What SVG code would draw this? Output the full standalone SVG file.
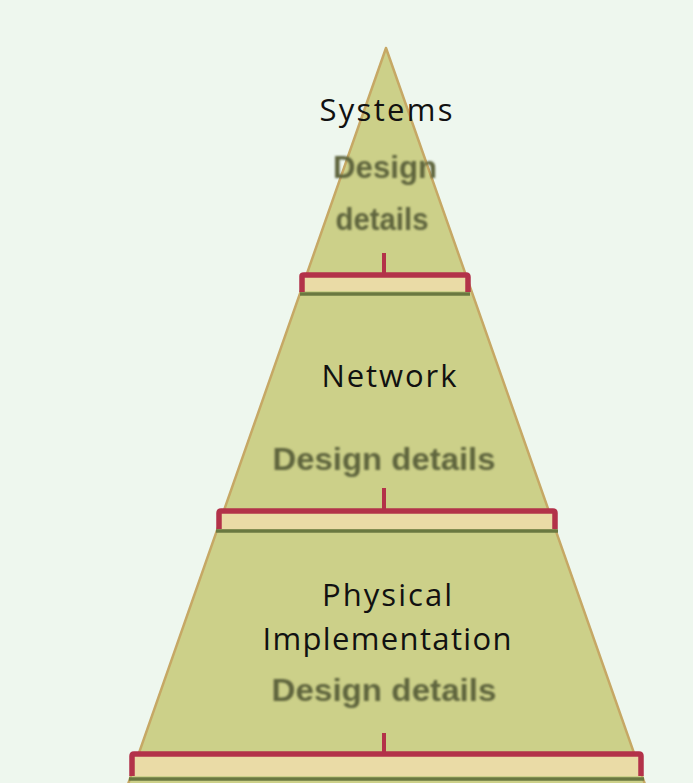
<svg xmlns="http://www.w3.org/2000/svg" width="693" height="783" viewBox="0 0 693 783">
  <defs>
    <filter id="soft" x="-10%" y="-30%" width="120%" height="160%">
      <feGaussianBlur stdDeviation="1.3"/>
    </filter>
    <filter id="edge" x="-5%" y="-5%" width="110%" height="110%">
      <feGaussianBlur stdDeviation="0.6"/>
    </filter>
    <style>
      .lbl { font-family: "Open Sans", "Liberation Sans", sans-serif; font-size: 31px; fill: #111111; text-anchor: middle; font-variant-ligatures: none; }
      .dd { font-family: "Liberation Sans", "DejaVu Sans", sans-serif; font-weight: bold; font-size: 32px; fill: #5f653d; text-anchor: middle; filter: url(#soft); }
      .red { fill: none; stroke: #b3324a; stroke-width: 5.5; stroke-linejoin: round; }
      .inner { fill: #eadba6; stroke: none; }
      .olive { stroke: #6b7840; stroke-width: 3.5; fill: none; }
      .stem { stroke: #b3324a; stroke-width: 4; }
    </style>
  </defs>
  <rect x="0" y="0" width="693" height="783" fill="#eef7ee"/>

  <g id="pyramid" filter="url(#edge)">
    <polygon points="386,48 126,790 647,790" fill="#ccd089" stroke="#c6a865" stroke-width="2.5" stroke-linejoin="round"/>
  </g>

  <g id="systems">
    <text class="lbl" x="386" y="121" textLength="133" lengthAdjust="spacing">Systems</text>
    <text class="dd" x="385" y="178" textLength="104" lengthAdjust="spacingAndGlyphs">Design</text>
    <text class="dd" x="382" y="230" textLength="93" lengthAdjust="spacingAndGlyphs">details</text>
  </g>

  <g id="network">
    <text class="lbl" x="389" y="387" textLength="135" lengthAdjust="spacing">Network</text>
    <text class="dd" x="384" y="470" textLength="223" lengthAdjust="spacingAndGlyphs">Design details</text>
  </g>

  <g id="physical">
    <text class="lbl" x="387" y="606" textLength="130" lengthAdjust="spacing">Physical</text>
    <text class="lbl" x="387" y="650" textLength="249" lengthAdjust="spacing">Implementation</text>
    <text class="dd" x="384" y="701" textLength="225" lengthAdjust="spacingAndGlyphs">Design details</text>
  </g>

  <g id="connectors" filter="url(#edge)">
    <!-- band 1 -->
    <rect class="inner" x="302" y="276" width="166" height="15"/>
    <line class="stem" x1="384" y1="253" x2="384" y2="275"/>
    <path class="red" d="M302,292 V276 Q302,275 304,275 H466 Q468,275 468,277 V292"/>
    <line class="olive" x1="300" y1="294" x2="470" y2="294"/>
    <!-- band 2 -->
    <rect class="inner" x="219" y="513" width="336" height="16"/>
    <line class="stem" x1="384" y1="488" x2="384" y2="512"/>
    <path class="red" d="M219,529 V513 Q219,511 221,511 H553 Q555,511 555,513 V529"/>
    <line class="olive" x1="216" y1="531" x2="558" y2="531"/>
    <!-- band 3 -->
    <rect class="inner" x="132" y="756" width="509" height="20"/>
    <line class="stem" x1="384" y1="733" x2="384" y2="754"/>
    <path class="red" d="M132,776 V756 Q132,754 134,754 H639 Q641,754 641,756 V776"/>
    <line class="olive" x1="129" y1="779" x2="644" y2="779"/>
  </g>
</svg>
